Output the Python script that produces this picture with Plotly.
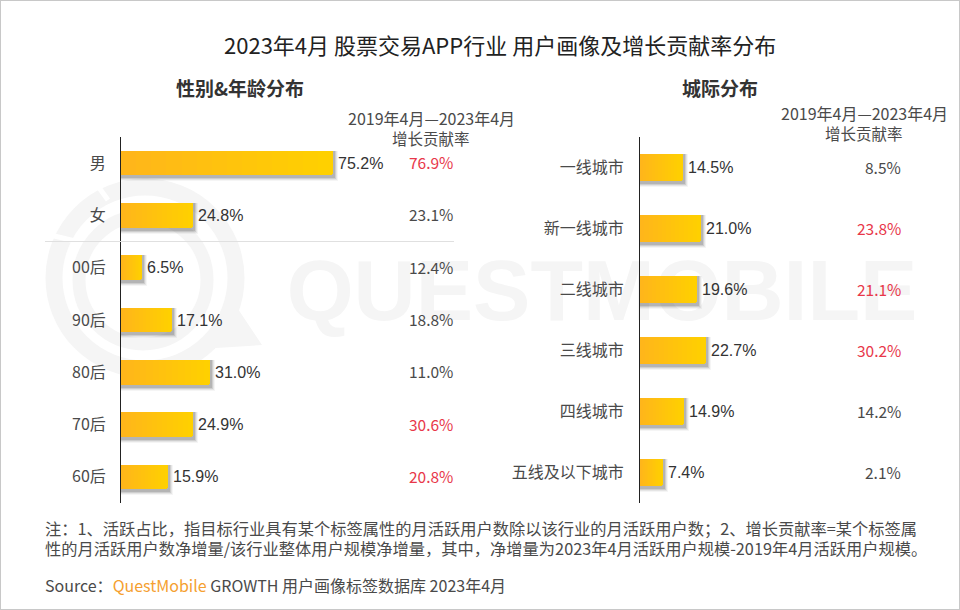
import plotly.graph_objects as go

# left panel
left_cats = ["男", "女", "00后", "90后", "80后", "70后", "60后"]
left_share = [75.2, 24.8, 6.5, 17.1, 31.0, 24.9, 15.9]
left_contrib = ["76.9%", "23.1%", "12.4%", "18.8%", "11.0%", "30.6%", "20.8%"]
left_red = [True, False, False, False, False, True, True]

# right panel
right_cats = ["一线城市", "新一线城市", "二线城市", "三线城市", "四线城市", "五线及以下城市"]
right_share = [14.5, 21.0, 19.6, 22.7, 14.9, 7.4]
right_contrib = ["8.5%", "23.8%", "21.1%", "30.2%", "14.2%", "2.1%"]
right_red = [False, True, True, True, False, False]

W, H = 960, 610
CJK = "Noto Sans CJK SC"
LATIN = "Liberation Sans"
DARK = "#4a4a4a"
RED = "#e8374a"
WATER = "#f5f5f5"
STEPS = 14
# the original axes start slightly below zero, bars run from the axis line
LEFT_SCALE, LEFT_MIN = 2.78, -1.08
RIGHT_SCALE, RIGHT_MIN = 2.81, -0.8


def px(x):
    return x / W


def py(y):
    return 1 - y / H


def mix(t):
    g = int(180 + (208 - 180) * t)
    b = int(28 + (0 - 28) * t)
    return f"rgb(255,{g},{b})"


def add_panel(fig, vals, xname, yname, thick, row_px, scale, xmin):
    ys = list(range(len(vals)))
    lengths = [v - xmin for v in vals]
    # soft drop shadow, stacked transparent bars
    for right, down, alpha in [(5, 6, 0.06), (4, 5, 0.10), (3, 4, 0.16), (2, 3, 0.22)]:
        fig.add_trace(go.Bar(
            x=[n + right / scale for n in lengths], y=[i + down / 2 / row_px for i in ys], base=xmin,
            orientation="h", width=thick + down / row_px,
            marker=dict(color=f"rgba(90,90,90,{alpha})", line_width=0),
            xaxis=xname, yaxis=yname, hoverinfo="skip", showlegend=False,
        ))
    # horizontal gradient, painted from the bar end inwards
    for k in range(STEPS):
        t = 1 - k / STEPS
        fig.add_trace(go.Bar(
            x=[n * t for n in lengths], y=ys, base=xmin,
            orientation="h", width=thick,
            marker=dict(color=mix(t), line_width=0, cornerradius=2 if k == 0 else 0),
            xaxis=xname, yaxis=yname, showlegend=False,
        ))


fig = go.Figure()
# page-sized layer first, so the watermark sits under the bars
fig.add_trace(go.Scatter(
    x=[602], y=[298], mode="text", text=["<b>QUESTMOBILE</b>"],
    textfont=dict(family=LATIN, size=86, color=WATER),
    xaxis="x", yaxis="y", hoverinfo="skip", showlegend=False,
))
add_panel(fig, left_share, "x2", "y2", 0.47, 52.3, LEFT_SCALE, LEFT_MIN)
add_panel(fig, right_share, "x3", "y3", 0.43, 61, RIGHT_SCALE, RIGHT_MIN)

notes = []


def label(x, y, text, size, color=DARK, anchor="center", family=CJK):
    notes.append(dict(xref="paper", yref="paper", x=px(x), y=py(y), text=text, showarrow=False,
                      xanchor=anchor, yanchor="middle", font=dict(family=family, size=size, color=color)))


label(500, 44, "2023年4月 股票交易APP行业 用户画像及增长贡献率分布", 22, "#222222")
label(240, 87, "<b>性别&年龄分布</b>", 19, "#333333")
label(720, 87, "<b>城际分布</b>", 19, "#333333")
label(431, 118, "2019年4月—2023年4月", 16)
label(431, 138, "增长贡献率", 15.5)
label(864, 113, "2019年4月—2023年4月", 16)
label(864, 133, "增长贡献率", 15.5)

for i, v in enumerate(left_share):
    notes.append(dict(xref="x2", yref="y2", x=v, y=i, text=f"{v:.1f}%", showarrow=False, xanchor="left", xshift=3,
                      font=dict(family=LATIN, size=16, color="#333333")))
    notes.append(dict(xref="paper", yref="y2", x=px(455), y=i, yshift=1, text=left_contrib[i], showarrow=False,
                      xanchor="right", font=dict(family=CJK, size=15.5, color=RED if left_red[i] else DARK)))
for i, v in enumerate(right_share):
    notes.append(dict(xref="x3", yref="y3", x=v, y=i, text=f"{v:.1f}%", showarrow=False, xanchor="left", xshift=3,
                      font=dict(family=LATIN, size=16, color="#333333")))
    notes.append(dict(xref="paper", yref="y3", x=px(903), y=i, yshift=1, text=right_contrib[i], showarrow=False,
                      xanchor="right", font=dict(family=CJK, size=15.5, color=RED if right_red[i] else DARK)))

label(43, 528, "注：1、活跃占比，指目标行业具有某个标签属性的月活跃用户数除以该行业的月活跃用户数；2、增长贡献率=某个标签属", 16.25, anchor="left")
label(43, 548, "性的月活跃用户数净增量/该行业整体用户规模净增量，其中，净增量为2023年4月活跃用户规模-2019年4月活跃用户规模。", 16.25, anchor="left")
label(43, 585, "Source：<span style='color:#f5a030'>QuestMobile</span> GROWTH 用户画像标签数据库 2023年4月", 16, anchor="left")

shapes = [
    dict(type="rect", xref="paper", yref="paper", x0=0, x1=1, y0=0, y1=1,
         line=dict(color="#c8c8c8", width=2), layer="above"),
    dict(type="line", xref="paper", yref="paper", x0=px(45), x1=px(454), y0=py(241.5), y1=py(241.5),
         line=dict(color="#e0e0e0", width=1), layer="above"),
    # watermark logo: two rings, the Q tail and the small cuts in the outer ring
    dict(type="circle", xref="paper", yref="paper", x0=px(54), x1=px(236), y0=py(187), y1=py(369),
         line=dict(color=WATER, width=17), layer="below"),
    dict(type="circle", xref="paper", yref="paper", x0=px(79), x1=px(207), y0=py(216), y1=py(344),
         line=dict(color=WATER, width=13), layer="below"),
    dict(type="path", xref="paper", yref="paper", fillcolor=WATER, line_width=0, layer="below",
         path=f"M {px(232)} {py(300)} L {px(262)} {py(345)} L {px(200)} {py(349)} L {px(215)} {py(325)} Z"),
    dict(type="line", xref="paper", yref="paper", x0=px(42), x1=px(75), y0=py(233), y1=py(241),
         line=dict(color="white", width=5), layer="below"),
    dict(type="line", xref="paper", yref="paper", x0=px(92), x1=px(108), y0=py(178), y1=py(200),
         line=dict(color="white", width=5), layer="below"),
]

axis_common = dict(showgrid=False, zeroline=False, showticklabels=False, ticks="", showline=False)
fig.update_layout(
    width=W, height=H, margin=dict(l=0, r=0, t=0, b=0),
    paper_bgcolor="white", plot_bgcolor="rgba(0,0,0,0)",
    barmode="overlay", bargap=0, showlegend=False,
    annotations=notes, shapes=shapes,
    xaxis=dict(domain=[0, 1], range=[0, W], **axis_common),
    yaxis=dict(domain=[0, 1], range=[H, 0], anchor="x", **axis_common),
    xaxis2=dict(domain=[px(121), px(470)], range=[LEFT_MIN, LEFT_MIN + 349 / LEFT_SCALE], anchor="y2", **axis_common),
    xaxis3=dict(domain=[px(640), px(950)], range=[RIGHT_MIN, RIGHT_MIN + 310 / RIGHT_SCALE], anchor="y3", **axis_common),
    yaxis2=dict(domain=[py(503), py(137)], range=[6.5, -0.5], anchor="x2", showgrid=False, zeroline=False,
                showline=True, linecolor="#222222", linewidth=1, ticks="",
                tickvals=list(range(len(left_cats))), ticktext=left_cats, ticklabelstandoff=11,
                tickfont=dict(family=CJK, size=16, color=DARK)),
    yaxis3=dict(domain=[py(503), py(137)], range=[5.5, -0.5], anchor="x3", showgrid=False, zeroline=False,
                showline=True, linecolor="#222222", linewidth=1, ticks="",
                tickvals=list(range(len(right_cats))), ticktext=right_cats, ticklabelstandoff=12,
                tickfont=dict(family=CJK, size=16, color=DARK)),
)

# the page body has a default margin that would push the chart off the frame
fig.write_html("out.html", config=dict(displayModeBar=False),
               post_script="document.body.style.margin='0';document.body.style.overflow='hidden';")
